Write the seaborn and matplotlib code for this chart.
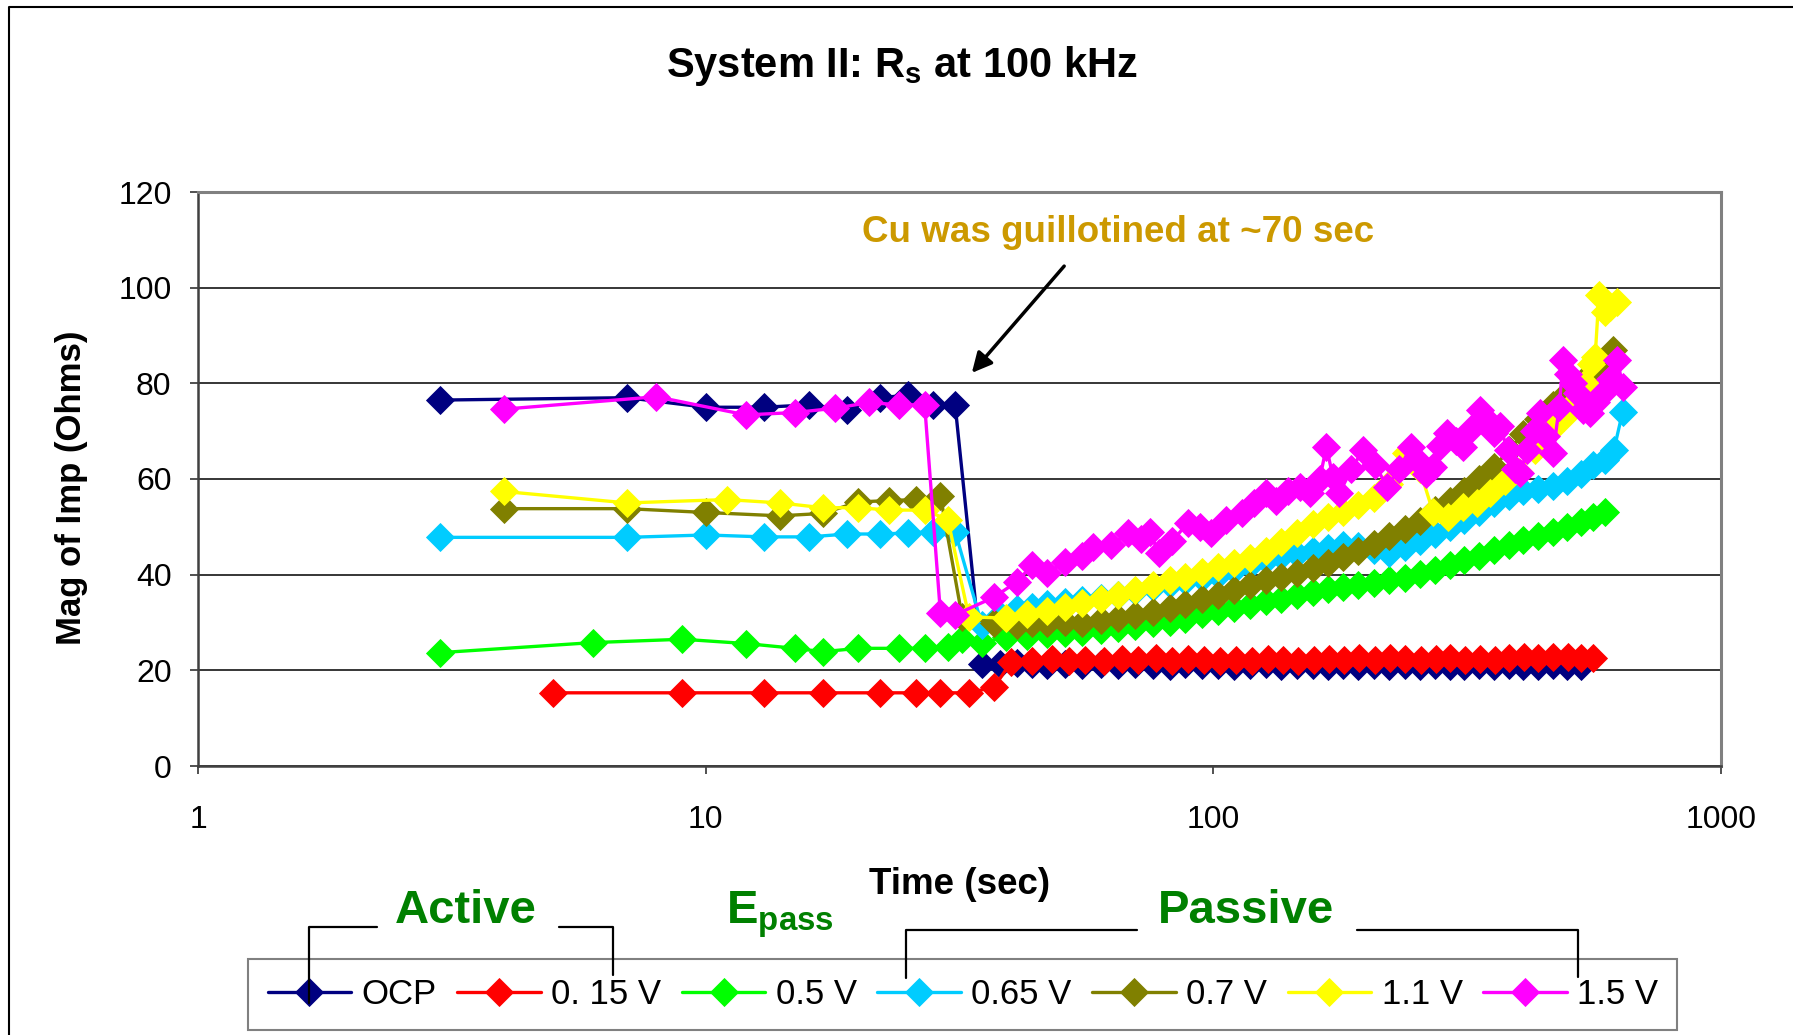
import numpy as np
import pandas as pd
import matplotlib
matplotlib.use("Agg")
import matplotlib.pyplot as plt
from matplotlib.lines import Line2D
import seaborn as sns

# data (time in sec, |Z| in Ohms)
ocp_t = [3, 7, 10, 13, 16, 19, 22, 25, 28, 31,
         35, 38, 41, 44, 47, 51, 55, 60, 65, 70,
         76, 82, 88, 95, 102, 110, 118, 127, 136, 146,
         157, 168, 180, 193, 207, 222, 238, 255, 273, 292,
         312, 334, 357, 382, 408, 436, 466, 498, 530]
ocp_z = [76.5, 77, 75, 75, 75.5, 74.5, 77, 77.5, 75.5, 75.5,
         21.3, 21.3, 21.5, 21.3, 21.2, 21.4, 21.2, 21.3, 21.1, 21.4,
         21.2, 21.0, 21.3, 21.1, 21.2, 21.0, 21.1, 21.3, 21.0, 21.1,
         21.2, 21.0, 21.1, 21.0, 21.2, 21.0, 21.1, 21.0, 21.1, 21.0,
         21.0, 21.1, 21.0, 21.1, 21.0, 21.0, 21.1, 21.0, 21.0]

v015_t = [5, 9, 13, 17, 22, 26, 29, 33, 37, 40,
          44, 48, 52, 56, 61, 66, 71, 77, 83, 89,
          96, 103, 111, 119, 128, 137, 147, 158, 169, 181,
          194, 208, 223, 239, 256, 274, 293, 313, 335, 358,
          383, 409, 437, 467, 499, 530, 560]
v015_z = [15.3, 15.3, 15.3, 15.3, 15.3, 15.3, 15.3, 15.3, 16.5, 21.8,
          22.0, 22.3, 22.0, 22.2, 22.0, 22.4, 22.1, 22.6, 22.0, 22.3,
          22.1, 22.0, 22.2, 22.0, 22.3, 22.1, 22.0, 22.2, 22.4, 22.1,
          22.5, 22.2, 22.6, 22.3, 22.1, 22.4, 22.6, 22.2, 22.3, 22.1,
          22.5, 22.7, 22.5, 22.8, 22.7, 22.6, 22.5]

v05_t = [3, 6, 9, 12, 15, 17, 20, 24, 27, 30,
         32, 35, 39, 43, 47, 51, 55, 60, 65, 70,
         76, 82, 88, 95, 102, 110, 118, 127, 136, 146,
         157, 168, 180, 193, 207, 222, 238, 255, 273, 292,
         312, 334, 357, 382, 408, 436, 466, 498, 530, 560,
         590]
v05_z = [23.7, 25.8, 26.5, 25.6, 24.6, 23.9, 24.6, 24.6, 24.6, 24.8,
         26.5, 25.7, 27.0, 27.2, 27.5, 27.8, 28.0, 28.5, 28.8, 29.2,
         29.8, 30.2, 30.8, 31.8, 32.4, 33.0, 33.6, 34.4, 35.0, 35.8,
         36.4, 37.0, 37.5, 37.9, 38.3, 38.8, 39.4, 40.2, 41.0, 42.0,
         43.0, 44.0, 45.2, 46.2, 47.2, 48.0, 49.0, 50.0, 51.0, 52.0,
         53.0]

v065_t = [3, 7, 10, 13, 16, 19, 22, 25, 28, 31,
          35, 38, 41, 44, 47, 51, 55, 60, 65, 70,
          76, 82, 88, 95, 102, 110, 118, 127, 136, 146,
          157, 168, 180, 193, 207, 222, 238, 255, 273, 292,
          312, 334, 357, 382, 408, 436, 466, 498, 530, 560,
          590, 615, 640]
v065_z = [47.8, 47.8, 48.3, 47.9, 47.9, 48.5, 48.5, 48.7, 49.0, 49.0,
          29.5, 31.5, 32.8, 33.2, 33.8, 34.3, 34.8, 35.2, 35.8, 36.6,
          37.4, 38.0, 38.6, 39.2, 40.0, 41.0, 42.0, 43.0, 43.8, 44.4,
          45.0, 45.6, 46.2, 46.0, 45.2, 44.6, 45.8, 47.0, 48.6, 50.0,
          51.5, 53.0, 55.0, 56.5, 57.5, 58.0, 58.6, 59.5, 61.0, 63.0,
          64.0, 66.0, 74.0]

v07_t = [4, 7, 10, 14, 17, 20, 23, 26, 29, 32,
         37, 41, 44, 47, 51, 55, 60, 65, 70, 76,
         82, 88, 95, 102, 110, 118, 127, 136, 146, 157,
         168, 180, 193, 207, 222, 238, 255, 273, 292, 312,
         334, 357, 382, 408, 436, 466, 498, 530, 560, 590,
         612]
v07_z = [53.8, 53.8, 53.0, 52.3, 52.8, 55.2, 55.5, 55.7, 56.5, 31.2,
         29.9, 29.5, 29.8, 30.0, 30.2, 30.0, 30.5, 31.0, 31.5, 32.2,
         33.0, 33.8, 35.0, 35.8, 36.8, 37.8, 38.8, 39.6, 40.4, 41.4,
         42.4, 43.6, 45.0, 46.4, 48.0, 49.6, 51.2, 53.5, 55.5, 57.5,
         60.0, 62.5, 66.0, 69.5, 72.5, 75.5, 78.0, 80.0, 82.5, 85.0,
         87.0]

v11_t = [4, 7, 11, 14, 17, 20, 23, 27, 30, 33,
         39, 43, 47, 51, 55, 60, 65, 70, 76, 82,
         88, 95, 102, 110, 118, 127, 136, 146, 157, 168,
         180, 193, 207, 222, 240, 255, 271, 290, 310, 330,
         350, 375, 400, 430, 460, 490, 520, 540, 555, 565,
         575, 590, 605, 625]
v11_z = [57.4, 55.0, 55.7, 55.0, 54.0, 54.0, 53.5, 53.5, 51.5, 31.2,
         30.9, 31.8, 32.5, 33.2, 34.0, 35.0, 35.8, 36.8, 37.8, 38.8,
         39.6, 40.6, 41.5, 42.5, 43.5, 45.0, 46.8, 48.7, 50.5, 52.0,
         53.2, 54.5, 56.0, 59.0, 65.4, 62.0, 53.0, 52.0, 54.2, 55.0,
         57.0, 59.5, 61.5, 66.0, 70.0, 73.0, 76.5, 80.0, 84.0, 85.5,
         98.5, 95.0, 96.0, 97.0]

v15_t = [4, 8, 12, 15, 18, 21, 24, 27, 29, 31,
         37, 41, 44, 47, 51, 55, 58, 63, 68, 72,
         75, 78, 83, 89, 94, 99, 106, 114, 120, 127,
         133, 140, 148, 155, 162, 167, 172, 177, 187, 197,
         208, 220, 232, 245, 252, 262, 271, 280, 288, 300,
         310, 322, 335, 345, 357, 367, 380, 392, 402, 415,
         428, 440, 452, 467, 480, 489, 500, 510, 520, 535,
         552, 568, 585, 605, 625, 641]
v15_z = [74.6, 77.2, 73.4, 73.9, 74.8, 76.0, 75.5, 75.5, 32.0, 31.6,
         35.3, 38.5, 42.0, 40.3, 42.7, 44.0, 45.8, 46.2, 48.7, 47.5,
         49.0, 44.5, 47.0, 50.8, 50.0, 48.7, 51.5, 52.9, 55.0, 57.0,
         55.5, 57.5, 58.4, 57.0, 60.0, 66.7, 60.5, 57.0, 62.0, 66.0,
         63.0, 58.4, 62.0, 66.7, 64.0, 61.0, 62.5, 67.0, 69.6, 68.0,
         66.7, 70.5, 74.4, 72.5, 69.6, 71.0, 66.0, 62.0, 61.2, 66.0,
         70.0, 73.8, 69.0, 65.4, 75.0, 84.9, 82.0, 80.0, 78.0, 74.5,
         73.8, 76.0, 78.0, 81.0, 84.9, 79.2]

labels = ["OCP", "0. 15 V", "0.5 V", "0.65 V", "0.7 V", "1.1 V", "1.5 V"]
colors = ["#000080", "#FF0000", "#00FF00", "#00CCFF", "#808000", "#FFFF00", "#FF00FF"]
series = [(ocp_t, ocp_z), (v015_t, v015_z), (v05_t, v05_z), (v065_t, v065_z),
          (v07_t, v07_z), (v11_t, v11_z), (v15_t, v15_z)]

sns.set_style("white")
plt.rcParams["font.family"] = ["Liberation Sans", "DejaVu Sans"]
plt.rcParams["mathtext.fontset"] = "custom"
plt.rcParams["mathtext.rm"] = "Liberation Sans"
plt.rcParams["mathtext.bf"] = "Liberation Sans:bold"
plt.rcParams["text.color"] = "black"
plt.rcParams["axes.labelcolor"] = "black"

W, H = 1793, 1035
fig = plt.figure(figsize=(W / 100, H / 100), dpi=100)
ax = fig.add_axes([198 / W, 1 - 766 / H, (1721 - 198) / W, (766 - 192) / H])

for (t, z), lab, c in zip(series, labels, colors):
    df = pd.DataFrame({"t": t, "z": z})
    sns.lineplot(data=df, x="t", y="z", ax=ax, sort=False, estimator=None,
                 color=c, label=lab, lw=2.4, marker="D", markersize=14,
                 markeredgewidth=0.6, markeredgecolor=c)

ax.set_xscale("log")
ax.set_xlim(1, 1000)
ax.set_ylim(0, 120)
ax.set_xticks([1, 10, 100, 1000])
ax.set_xticklabels(["1", "10", "100", "1000"])
ax.xaxis.set_minor_locator(matplotlib.ticker.NullLocator())
ax.set_yticks(range(0, 121, 20))
ax.tick_params(axis="both", labelsize=23, direction="out", length=6, width=1.2, colors="#333333")
ax.tick_params(axis="x", pad=22, labelcolor="black")
ax.tick_params(axis="y", pad=13, labelcolor="black")
ax.tick_params(bottom=True, left=True)
ax.yaxis.grid(True, color="black", lw=1.1)
ax.xaxis.grid(False)
ax.set_axisbelow(True)
for s in ["top", "right"]:
    ax.spines[s].set_color("#808080")
    ax.spines[s].set_linewidth(2.2)
for s in ["left", "bottom"]:
    ax.spines[s].set_color("#404040")
    ax.spines[s].set_linewidth(1.8)
ax.set_xlabel("")
ax.set_ylabel("")

handles, labs = ax.get_legend_handles_labels()
ax.get_legend().remove()
leg = fig.legend(handles, labs, loc="center", bbox_to_anchor=(0.537, 0.039), ncol=7,
                 fontsize=25, frameon=True, fancybox=False, framealpha=1,
                 edgecolor="#808080", handlelength=2.4, handletextpad=0.3,
                 columnspacing=0.6, borderpad=0.55)
leg.get_frame().set_linewidth(1.5)

# texts
fig.text(902 / W, 1 - 66 / H, r"System II: R$_{\mathbf{s}}$ at 100 kHz", ha="center", va="center",
         fontsize=30, fontweight="bold")
fig.text(72 / W, 1 - 488 / H, "Mag of Imp (Ohms)", rotation=90, ha="center", va="center",
         fontsize=25, fontweight="bold")
fig.text(960 / W, 1 - 884 / H, "Time (sec)", ha="center", va="center",
         fontsize=26.5, fontweight="bold")
fig.text(1118 / W, 1 - 232 / H, "Cu was guillotined at ~70 sec", ha="center", va="center",
         fontsize=26.5, fontweight="bold", color="#CC9900")
fig.add_artist(matplotlib.patches.FancyArrowPatch(
    (1066 / W, 1 - 264 / H), (970 / W, 1 - 375 / H), transform=fig.transFigure,
    arrowstyle="-|>", mutation_scale=30, lw=2.5, color="black"))

green = "#008000"
fig.text(466 / W, 1 - 911 / H, "Active", ha="center", va="center", fontsize=34,
         fontweight="bold", color=green)
fig.text(780 / W, 1 - 915 / H, r"E$_{\mathbf{pass}}$", ha="center", va="center", fontsize=34,
         fontweight="bold", color=green)
fig.text(1246 / W, 1 - 911 / H, "Passive", ha="center", va="center", fontsize=34,
         fontweight="bold", color=green)

# bracket lines (pixel coords), drawn over the legend box
brackets = [[(309, 1003), (309, 927), (377, 927)],
            [(559, 927), (613, 927), (613, 975)],
            [(906, 978), (906, 930), (1137, 930)],
            [(1357, 930), (1578, 930), (1578, 977)]]
for b in brackets:
    xs = [p[0] / W for p in b]
    ys = [1 - p[1] / H for p in b]
    fig.add_artist(Line2D(xs, ys, transform=fig.transFigure, color="black", lw=1.6, zorder=10))

# outer chart frame (left and top edges visible)
fig.add_artist(Line2D([9 / W, 9 / W, 1.01], [-0.01, 1 - 7 / H, 1 - 7 / H],
                      transform=fig.transFigure, color="black", lw=1.5))

fig.savefig("out.png", dpi=100)
